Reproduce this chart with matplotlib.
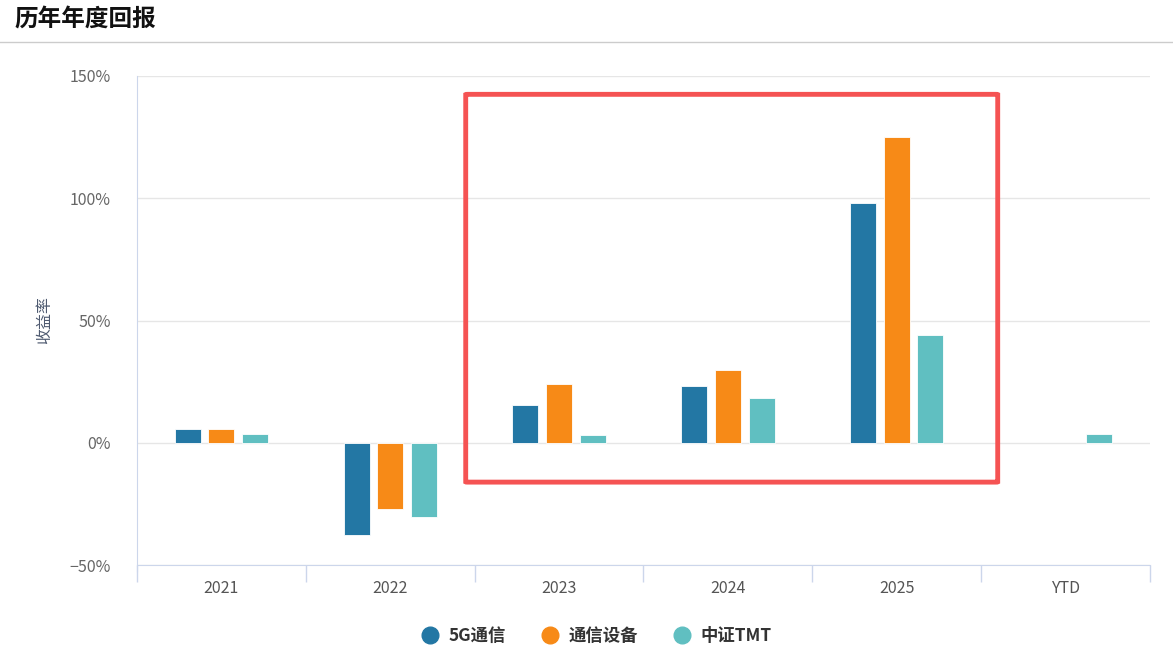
import numpy as np
import matplotlib
matplotlib.use("Agg")
import matplotlib.pyplot as plt
from matplotlib.patches import FancyBboxPatch
from matplotlib.lines import Line2D

plt.rcParams['font.family'] = ['Noto Sans CJK SC', 'DejaVu Sans']

categories = ['2021', '2022', '2023', '2024', '2025', 'YTD']
series_names = ['5G通信', '通信设备', '中证TMT']
g5 = [5.5, -37.6, 15.5, 23.2, 98.0, np.nan]
equip = [5.5, -27.3, 24.2, 29.8, 125.0, np.nan]
tmt = [3.7, -30.4, 3.3, 18.3, 44.0, 3.7]
colors = ['#2377a4', '#f78a17', '#60bfc1']

fig = plt.figure(figsize=(11.73, 6.51), dpi=100)

# title + separator
fig.text(14 / 1173, 1 - 20 / 651, '历年年度回报', fontsize=17, fontweight='heavy',
         va='center', ha='left', color='#111111')
fig.add_artist(Line2D([0, 1], [1 - 42 / 651] * 2, color='#cccccc', lw=1))

ax = fig.add_axes([137 / 1173, 1 - 565 / 651, 1013 / 1173, 489 / 651])

x = np.arange(len(categories))
step = 0.199
width = 0.154
for i, (vals, c) in enumerate(zip([g5, equip, tmt], colors)):
    ax.bar(x + (i - 1) * step, vals, width, color=c, edgecolor='white',
           linewidth=0.6, label=series_names[i], zorder=3)

ax.set_xlim(-0.5, len(categories) - 0.5)
ax.set_ylim(-50, 150)
ax.set_yticks([-50, 0, 50, 100, 150])
ax.set_yticklabels(['−50%', '0%', '50%', '100%', '150%'])
ax.yaxis.grid(True, color='#e6e6e6', lw=1, zorder=0)
ax.tick_params(axis='y', length=0, pad=19, labelsize=11.5, labelcolor='#666666')

ax.set_xticks(x)
ax.set_xticklabels(categories)
ax.set_xticks(np.arange(-0.5, len(categories)), minor=True)
ax.tick_params(axis='x', which='major', length=0, pad=11, labelsize=11.5, labelcolor='#555555')
ax.tick_params(axis='x', which='minor', length=12, color='#ccd6eb', width=1)

for s in ['top', 'right']:
    ax.spines[s].set_visible(False)
ax.spines['bottom'].set_color('#ccd6eb')
ax.spines['left'].set_color('#ccd6eb')
ax.spines['left'].set_bounds(-52.5, 150)

ax.set_ylabel('收益率', fontsize=11.5, color='#4e5a70', labelpad=12)

# red highlight box
box = FancyBboxPatch((1.447, -16.1), 4.598 - 1.447, 142.5 + 16.1,
                     boxstyle='round,pad=0,rounding_size=0.01',
                     fill=False, edgecolor='#f55353', lw=3.5, zorder=5,
                     clip_on=False, mutation_aspect=10)
ax.add_patch(box)

handles = [Line2D([], [], marker='o', ls='', markersize=12, color=c) for c in colors]
leg = fig.legend(handles, series_names, loc='center', bbox_to_anchor=(592 / 1173, 1 - 636 / 651),
                 ncol=3, frameon=False, handletextpad=0.1, columnspacing=1.5,
                 prop={'weight': 'bold', 'size': 12.5})
for t in leg.get_texts():
    t.set_color('#333333')

fig.savefig('out.png', dpi=100)
